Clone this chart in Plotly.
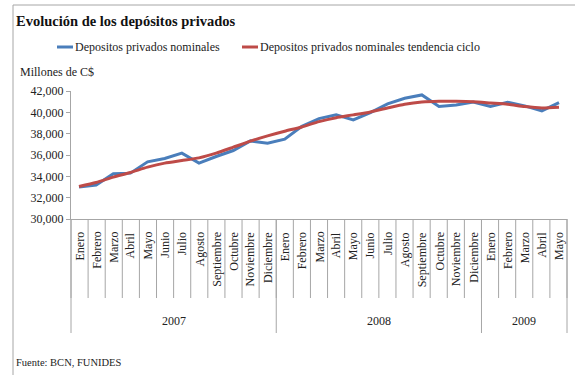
import plotly.graph_objects as go

# Monthly series, January 2007 - May 2009 (millions of C$)
years = ["2007"] * 12 + ["2008"] * 12 + ["2009"] * 5
months = ["Enero", "Febrero", "Marzo", "Abril", "Mayo", "Junio", "Julio", "Agosto",
          "Septiembre", "Octubre", "Noviembre", "Diciembre"] * 2 + \
         ["Enero", "Febrero", "Marzo", "Abril", "Mayo"]

nominales = [33000, 33180, 34240, 34300, 35360, 35670, 36170, 35240, 35860, 36420,
             37320, 37100, 37480, 38700, 39410, 39760, 39290, 39980, 40790, 41320,
             41630, 40540, 40690, 40970, 40540, 40940, 40600, 40130, 40910]
tendencia = [33050, 33420, 33930, 34360, 34860, 35240, 35480, 35730, 36170, 36730,
             37300, 37790, 38230, 38630, 39130, 39500, 39760, 40040, 40410, 40760,
             40970, 41040, 41040, 41000, 40880, 40760, 40540, 40410, 40480]

y_ticks = [30000, 32000, 34000, 36000, 38000, 40000, 42000]

series_names = ["Depositos privados nominales",
                "Depositos privados nominales tendencia ciclo"]

FONT = "Liberation Serif"
BLUE = "#4A7EBB"
RED = "#BE4B48"
GRID = "#A6A6A6"
TEXT = "#222222"

W, H = 575, 375
ML, MR, MT, MB = 71, 8, 91, 156
PW, PH = W - ML - MR, H - MT - MB

# unique category keys (month + year), labelled with the month name only
keys = [f"{m} {y}" for m, y in zip(months, years)]
n = len(keys)

fig = go.Figure()
fig.add_trace(go.Scatter(x=keys, y=nominales, mode="lines", name=series_names[0],
                         line=dict(color=BLUE, width=3), showlegend=False))
fig.add_trace(go.Scatter(x=keys, y=tendencia, mode="lines", name=series_names[1],
                         line=dict(color=RED, width=3, shape="spline", smoothing=0.6),
                         showlegend=False))


def px_x(px):
    return (px - ML) / PW


def px_y(py):
    return (H - MB - py) / PH


shapes = []
annotations = []

# vertical month names hanging below the axis, between thin separators
for key, m in zip(keys, months):
    annotations.append(dict(text=m, xref="x", yref="paper", x=key, y=px_y(231),
                            xanchor="center", yanchor="top", textangle=-90,
                            showarrow=False, borderpad=0,
                            font=dict(family=FONT, size=12, color=TEXT)))
for i in range(n + 1):
    shapes.append(dict(type="line", xref="paper", yref="paper",
                       x0=i / n, x1=i / n, y0=0, y1=px_y(298),
                       line=dict(color=GRID, width=1)))

# year groups: longer separators and centred year labels
groups = []
for i, y in enumerate(years):
    if not groups or groups[-1][0] != y:
        groups.append([y, i, 0])
    groups[-1][2] += 1
for y, start, count in groups:
    shapes.append(dict(type="line", xref="paper", yref="paper",
                       x0=start / n, x1=start / n, y0=0, y1=px_y(333),
                       line=dict(color=GRID, width=1)))
    annotations.append(dict(text=y, xref="paper", yref="paper",
                            x=(start + count / 2) / n, y=px_y(321),
                            xanchor="center", yanchor="middle", showarrow=False,
                            font=dict(family=FONT, size=12, color=TEXT)))
shapes.append(dict(type="line", xref="paper", yref="paper", x0=1, x1=1,
                   y0=0, y1=px_y(333), line=dict(color=GRID, width=1)))

# chart frame (top and left edges)
shapes.append(dict(type="line", xref="paper", yref="paper",
                   x0=px_x(13), x1=px_x(576), y0=px_y(5), y1=px_y(5),
                   line=dict(color=GRID, width=1)))
shapes.append(dict(type="line", xref="paper", yref="paper",
                   x0=px_x(13), x1=px_x(13), y0=px_y(5), y1=px_y(376),
                   line=dict(color=GRID, width=1)))

# legend: short line sample followed by the series name
legend_items = [(series_names[0], BLUE, 57, 73), (series_names[1], RED, 242, 258)]
for name, color, x0, x1 in legend_items:
    shapes.append(dict(type="line", xref="paper", yref="paper",
                       x0=px_x(x0), x1=px_x(x1), y0=px_y(47), y1=px_y(47),
                       line=dict(color=color, width=3)))
    annotations.append(dict(text=name, xref="paper", yref="paper",
                            x=px_x(x1), y=px_y(47), xanchor="left", yanchor="middle",
                            showarrow=False,
                            font=dict(family=FONT, size=12, color=TEXT)))

annotations += [
    dict(text="<b>Evolución de los depósitos privados</b>", xref="paper", yref="paper",
         x=px_x(14), y=px_y(21), xanchor="left", yanchor="middle", showarrow=False,
         font=dict(family=FONT, size=14.5, color="#111")),
    dict(text="Millones de C$", xref="paper", yref="paper",
         x=px_x(18), y=px_y(72), xanchor="left", yanchor="middle", showarrow=False,
         font=dict(family=FONT, size=12, color=TEXT)),
    dict(text="Fuente: BCN, FUNIDES", xref="paper", yref="paper",
         x=px_x(14), y=px_y(362), xanchor="left", yanchor="middle", showarrow=False,
         font=dict(family=FONT, size=10.5, color=TEXT)),
]

fig.update_layout(
    width=W, height=H,
    margin=dict(l=ML, r=MR, t=MT, b=MB),
    paper_bgcolor="white", plot_bgcolor="white",
    font=dict(family=FONT, size=12, color=TEXT),
    showlegend=False,
    shapes=shapes,
    annotations=annotations,
)
fig.update_xaxes(type="category", categoryorder="array", categoryarray=keys,
                 showticklabels=False, showline=True, linecolor=GRID, linewidth=1,
                 ticks="", showgrid=False)
fig.update_yaxes(range=[30000, 42000], tickvals=y_ticks, tickformat=",",
                 showline=True, linecolor=GRID, linewidth=1, ticks="outside",
                 ticklen=4, tickcolor=GRID, showgrid=False, zeroline=False,
                 tickfont=dict(family=FONT, size=12, color=TEXT))

fig.write_html("out.html")
